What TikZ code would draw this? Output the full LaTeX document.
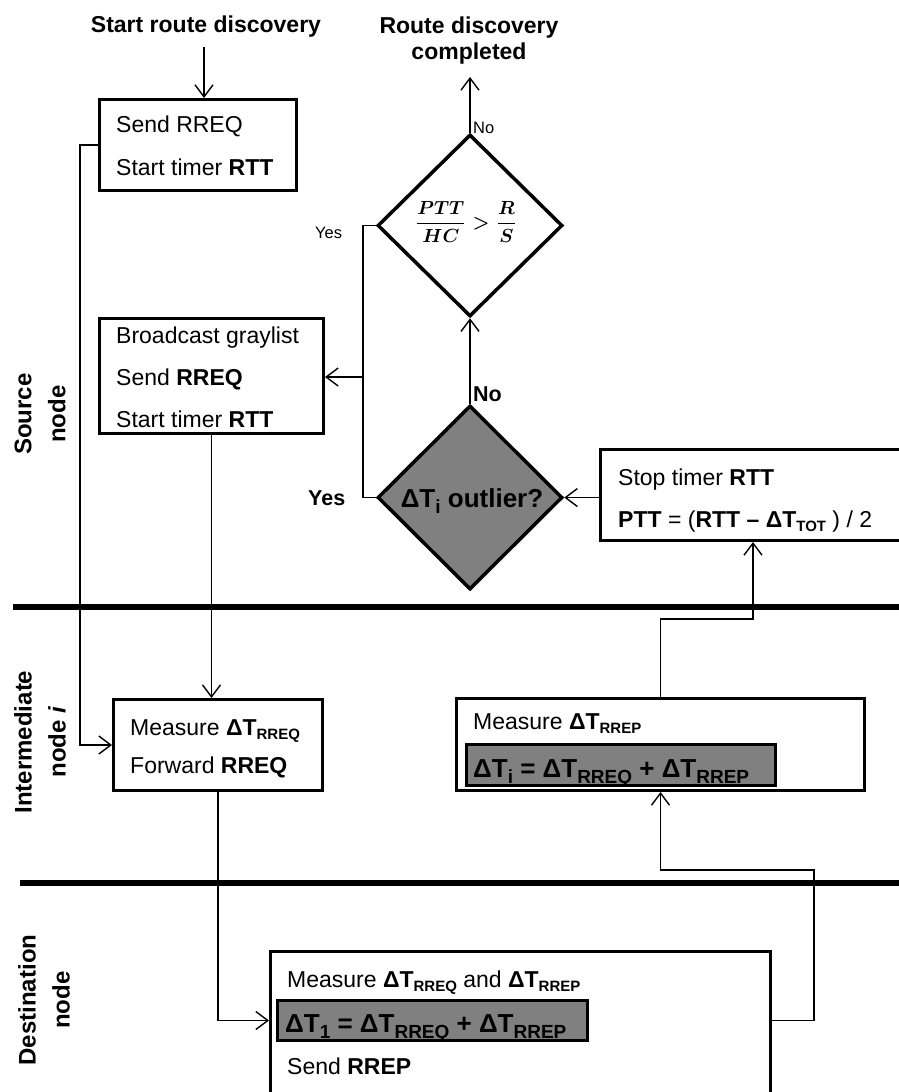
\documentclass[tikz,border=0pt]{standalone}
\usepackage{amsmath}
\usepackage{graphicx}
\usepackage{fontspec}
\setmainfont{Liberation Sans}
\usetikzlibrary{arrows.meta,shapes.geometric,calc}
\definecolor{fillg}{RGB}{128,128,128}
\newcommand\fs[1]{\fontsize{#1}{#1}\selectfont}
\newcommand\sbx[1]{\raisebox{-0.2em}{\fontsize{15}{15}\selectfont\bfseries #1}}
\newcommand\sbg[1]{\raisebox{-0.25em}{\fontsize{19}{19}\selectfont\bfseries #1}}
\begin{document}
\begin{tikzpicture}[x=1pt,y=-1pt,
  box/.style={draw, line width=3pt, inner sep=0pt, fill=white},
  gbox/.style={draw, line width=3pt, inner sep=0pt, fill=fillg},
  txt/.style={anchor=base west, inner sep=0pt, font=\fs{23}},
  gtxt/.style={anchor=base west, inner sep=0pt, font=\fs{26}\bfseries},
  ttl/.style={anchor=base, inner sep=0pt, font=\fs{23}\bfseries},
  small/.style={anchor=base west, inner sep=0pt, font=\fs{16.5}},
  smallb/.style={anchor=base west, inner sep=0pt, font=\fs{21.5}\bfseries},
  conn/.style={line width=1.4pt},
  arr/.style={line width=1.4pt, -{Straight Barb[length=12pt,width=18pt,line width=1.4pt]}},
  sep/.style={line width=6pt},
  dia/.style={draw, diamond, shape aspect=1, line width=3.5pt, inner sep=0pt},
  lane/.style={rotate=90, align=center, font=\fontsize{24}{34}\selectfont\bfseries, inner sep=0pt}
]
\useasboundingbox (0,0) rectangle (899,1092);
\clip (0,0) rectangle (899,1092);

% lane separators
\draw[sep] (13,607) -- (899,607);
\draw[sep] (20,883) -- (899,883);

% lane labels
\node[lane] (lsrc) at (40,414) {Source\\node};
\node[lane] (lint) at (40,742) {Intermediate\\node \textit{i}};
\node[lane] (ldst) at (44,1000) {Destination\\node};

% titles
\node[ttl] (t1) at (206,32) {Start route discovery};
\node[ttl] (t2a) at (469,33) {Route discovery};
\node[ttl] (t2b) at (469,59) {completed};

% boxes
\node[box, minimum width=197pt, minimum height=91pt] (b1) at (198,145) {};
\node[txt] (b1a) at (116,132) {Send RREQ};
\node[txt] (b1b) at (116,175) {Start timer \textbf{RTT}};

\node[box, minimum width=224pt, minimum height=115pt] (b2) at (211.5,376) {};
\node[txt] (b2a) at (116,343) {Broadcast graylist};
\node[txt] (b2b) at (116,385) {Send \textbf{RREQ}};
\node[txt] (b2c) at (116,427) {Start timer \textbf{RTT}};

\node[box, minimum width=209pt, minimum height=91pt] (b3) at (218,745) {};
\node[txt] (b3a) at (130,735) {Measure \textbf{ΔT}\sbx{RREQ}};
\node[txt] (b3b) at (130,773) {Forward \textbf{RREQ}};

\node[box, minimum width=328pt, minimum height=91pt] (b4) at (764.5,495) {};
\node[txt] (b4a) at (618,485) {Stop timer \textbf{RTT}};
\node[txt] (b4b) at (618,527) {\textbf{PTT} = (\textbf{RTT – ΔT}\sbx{TOT} ) / 2};

\node[box, minimum width=408pt, minimum height=92pt] (b5) at (660.5,744.5) {};
\node[txt] (b5a) at (473,729) {Measure \textbf{ΔT}\sbx{RREP}};
\node[gbox, minimum width=309pt, minimum height=41pt] (g1) at (621,765) {};
\node[gtxt] (g1a) at (473,777) {ΔT\sbg{i} = ΔT\sbg{RREQ} + ΔT\sbg{RREP}};

\node[box, minimum width=500pt, minimum height=162pt] (b6) at (520.5,1032) {};
\node[txt] (b6a) at (287,987) {Measure \textbf{ΔT}\sbx{RREQ} and \textbf{ΔT}\sbx{RREP}};
\node[gbox, minimum width=310pt, minimum height=40pt] (g2) at (432.5,1020.5) {};
\node[gtxt] (g2a) at (285,1032) {ΔT\sbg{1} = ΔT\sbg{RREQ} + ΔT\sbg{RREP}};
\node[txt] (b6c) at (287,1074) {Send \textbf{RREP}};

% diamonds
\node[dia, fill=white, minimum width=185pt, minimum height=182pt] (d1) at (470,225.5) {};
\node[inner sep=0pt] (d1t) at (466,222) {\scalebox{1.9}{\boldmath$\dfrac{PTT}{HC} > \dfrac{R}{S}$}};
\node[dia, fill=fillg, minimum width=185pt, minimum height=184pt] (d2) at (470,497.5) {};
\node[anchor=base, inner sep=0pt, font=\fs{26}\bfseries] (d2t) at (472,507) {ΔT\sbg{i} outlier?};

% labels
\node[small] (lno1) at (473,133) {No};
\node[small] (lyes1) at (315,238) {Yes};
\node[smallb] (lno2) at (473,401) {No};
\node[smallb] (lyes2) at (308,505) {Yes};

% connectors
\coordinate (c1) at (814,870);
\coordinate (c2) at (753,619);
\coordinate (c3) at (363,377);
\coordinate (c4) at (204,47);
\draw[arr] (c4) -- (c4 |- b1.north);
\draw[arr] (b1.west) -- ++(-18,0) |- (b3.west);
\draw[arr] (b2.south) -- (b2.south |- b3.north);
\draw[arr] (b3.south) |- (b6.west |- g2.west);
\draw[arr] (b6.east |- g2.east) -| (c1) -| (b5.south);
\draw[arr] (b5.north) |- (c2) -- (c2 |- b4.south);
\draw[arr] (b4.west |- d2.east) -- (d2.east);
\draw[arr] (d2.north) -- (d1.south);
\draw[conn] (d2.west) -| (c3) |- (d1.west);
\draw[arr] (c3) -- (c3 -| b2.east);
\draw[arr, shorten >=13pt] (d1.north) -- (d1.north |- t2b.south);
\end{tikzpicture}
\end{document}
